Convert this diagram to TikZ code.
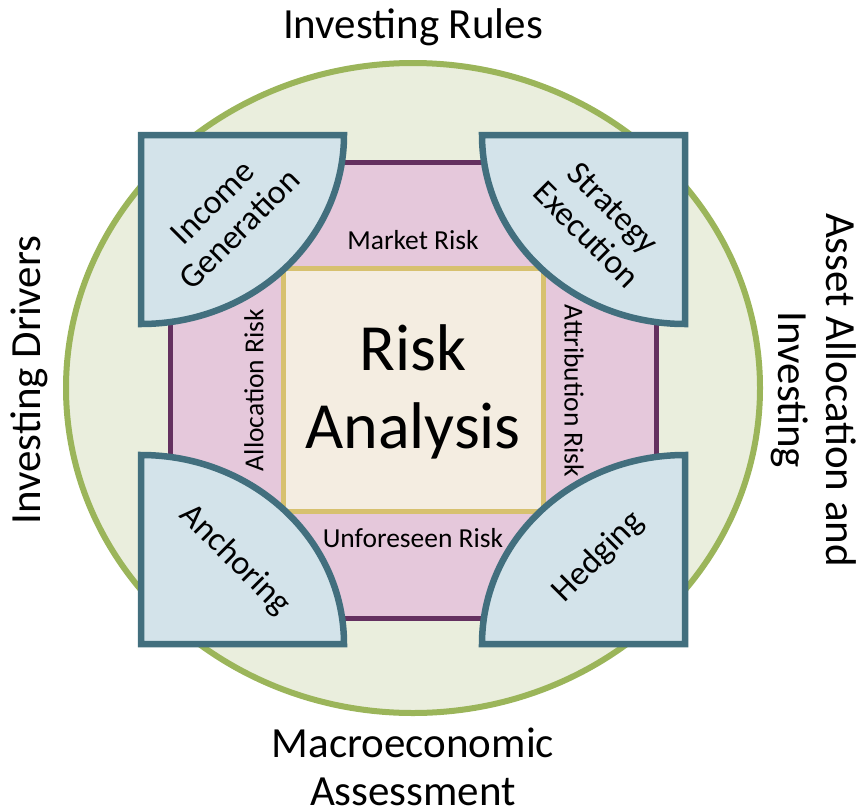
\documentclass[tikz,border=0pt]{standalone}
\usepackage{fontspec}
\setmainfont{Carlito}
\definecolor{ringfill}{HTML}{EAEEDD}
\definecolor{ringline}{HTML}{9BB55A}
\definecolor{bandfill}{HTML}{E5C8DB}
\definecolor{bandline}{HTML}{64305F}
\definecolor{corefill}{HTML}{F4EDE1}
\definecolor{coreline}{HTML}{D7C16F}
\definecolor{quarterfill}{HTML}{D3E3EA}
\definecolor{quarterline}{HTML}{426F7E}
\tikzset{
  ring/.style={fill=ringfill, draw=ringline, line width=6pt},
  band/.style={fill=bandfill, draw=bandline, line width=5pt},
  core/.style={fill=corefill, draw=coreline, line width=5pt},
  quarter/.style={fill=quarterfill, draw=quarterline, line width=6.5pt, line join=miter},
  biglabel/.style={font=\fontsize{43}{48}\selectfont, align=center, inner sep=0pt},
  smalllabel/.style={font=\fontsize{27.5}{30}\selectfont, inner sep=0pt},
  qlabel/.style={font=\fontsize{34}{38}\selectfont, align=center, inner sep=0pt},
  corelabel/.style={font=\fontsize{66}{78}\selectfont, align=center, inner sep=0pt}
}
\begin{document}
\begin{tikzpicture}[x=1pt,y=-1pt]
\useasboundingbox (0,0) rectangle (859,809);
% outer ring
\draw[ring] (413,388) ellipse [x radius=347, y radius=325];
% risk band
\draw[band] (170,162) rectangle (656,618);
% core
\draw[core] (283.5,268) rectangle (543,511);
% quarters
\draw[quarter] (141,135) -- (344,135) arc[start angle=0, end angle=90, x radius=203, y radius=189] -- cycle;
\draw[quarter] (685,135) -- (685,324) arc[start angle=90, end angle=180, x radius=203, y radius=189] -- cycle;
\draw[quarter] (141,644) -- (141,455) arc[start angle=270, end angle=360, x radius=203, y radius=189] -- cycle;
\draw[quarter] (685,644) -- (482,644) arc[start angle=180, end angle=270, x radius=203, y radius=189] -- cycle;
% outer labels
\node[biglabel] (rules) at (413,27) {Investing Rules};
\node[biglabel, rotate=90] (drivers) at (29,380) {Investing Drivers};
\node[biglabel, rotate=-90] (asset) at (814,390) {Asset Allocation and\\Investing};
\node[biglabel] (macro) at (413,767) {Macroeconomic\\Assessment};
% band labels
\node[smalllabel] (market) at (413,240) {Market Risk};
\node[smalllabel] (unforeseen) at (413,538) {Unforeseen Risk};
\node[smalllabel, rotate=90] (allocation) at (254,390) {Allocation Risk};
\node[smalllabel, rotate=-90] (attribution) at (574,391) {Attribution Risk};
% core label
\node[corelabel] (core) at (413,392) {Risk\\Analysis};
% quarter labels
\node[qlabel, rotate=45] (income) at (226,216) {Income\\Generation};
\node[qlabel, rotate=-45] (strategy) at (600,221) {Strategy\\Execution};
\node[qlabel, rotate=-45] (anchoring) at (235,560) {Anchoring};
\node[qlabel, rotate=45] (hedging) at (598,557) {Hedging};
\end{tikzpicture}
\end{document}
